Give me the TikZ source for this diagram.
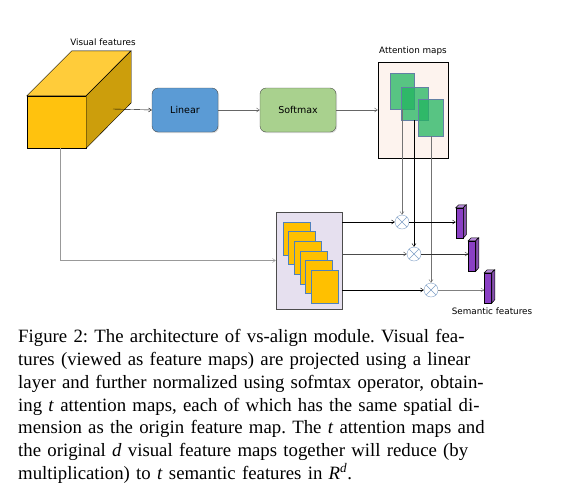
\documentclass[tikz,border=0pt]{standalone}
\usepackage{fontspec}
\setmainfont{Liberation Serif}
\newfontfamily\labelfont{DejaVu Sans}
\usetikzlibrary{arrows.meta, positioning, calc, shadows}

\definecolor{cubefront}{HTML}{FFC20E}
\definecolor{cubetop}{HTML}{FFCC3A}
\definecolor{cubeside}{HTML}{CC9E0C}
\definecolor{linblue}{HTML}{5B9BD5}
\definecolor{smgreen}{HTML}{A9D18E}
\definecolor{attbg}{HTML}{FDF3EE}
\definecolor{attgreen}{HTML}{22B560}
\definecolor{mapedge}{HTML}{4F81BD}
\definecolor{fmbg}{HTML}{E6E0EF}
\definecolor{mapyellow}{HTML}{FFC000}
\definecolor{barpurple}{HTML}{8A3FC4}
\definecolor{multedge}{HTML}{7F9FC6}

\newcommand{\capline}[1]{\leavevmode\hbox to 512pt{#1}}
\frenchspacing

\begin{document}
\begin{tikzpicture}[x=1pt, y=-1pt,
    lbl/.style={font=\labelfont\fontsize{8.8}{10}\selectfont, inner sep=0pt},
    block/.style={rounded corners=6pt, draw=black!70, minimum width=66pt, minimum height=44pt,
        font=\labelfont\fontsize{9.5}{11}\selectfont,
        drop shadow={opacity=0.25, shadow xshift=1pt, shadow yshift=-1pt}},
    arr/.style={-{Straight Barb[length=3pt, width=4pt]}},
    mult/.style={circle, draw=multedge, minimum size=14pt, inner sep=0pt},
    amap/.style={draw=mapedge!60!gray, fill=attgreen, fill opacity=0.75},
    fmap/.style={draw=mapedge, fill=mapyellow, minimum width=27pt, minimum height=33pt},
    bar/.style={draw=black, line width=0.5pt, fill=barpurple, minimum width=7pt, minimum height=30pt, inner sep=0pt}
]
    \useasboundingbox (0,0) rectangle (562,496);

    % visual feature cube
    \node[draw, fill=cubefront, minimum width=59pt, minimum height=52pt] (cube) at (56.5,122) {};
    \draw[fill=cubetop] (cube.north west) -- ++(45,-45) -- ++(59,0) -- (cube.north east) -- cycle;
    \draw[fill=cubeside] (cube.north east) -- ++(45,-45) -- ++(0,52) -- (cube.south east) -- cycle;
    \node[lbl] (vislabel) at (103,42) {Visual features};
    \coordinate (cubeout) at (113,109);
    \coordinate (drop) at (60,148);

    \node[block, fill=linblue] (lin) at (185,110) {Linear};
    \node[block, fill=smgreen, minimum width=76pt] (soft) at (298,110) {Softmax};

    % attention maps
    \node[draw, fill=attbg, minimum width=70pt, minimum height=96pt] (att) at (413,110) {};
    \node[lbl] (attlabel) at (413,51) {Attention maps};
    \node[amap, minimum width=24pt, minimum height=36pt] (amap1) at (402,91) {};
    \node[amap, minimum width=27pt, minimum height=33pt] (amap2) at (414.5,103.5) {};
    \node[amap, minimum width=25pt, minimum height=37pt] (amap3) at (430.5,117.5) {};

    % feature maps
    \node[draw=black!70, fill=fmbg, minimum width=66pt, minimum height=97pt] (fbox) at (309,260.5) {};
    \foreach \i in {0,...,5}
        \node[fmap] (fm\i) at ({296.5+5.6*\i},{238.5+9.6*\i}) {};

    % multiplications
    \node[mult] (mul1) at (402,222) {};
    \node[mult] (mul2) at (414,254) {};
    \node[mult] (mul3) at (431,290) {};
    \foreach \n in {1,2,3}
        \draw[multedge] (mul\n.north east) -- (mul\n.south west) (mul\n.north west) -- (mul\n.south east);

    % semantic features
    \foreach \n/\x/\y in {1/459.5/223, 2/472/256, 3/488/288} {
        \node[bar] (bar\n) at (\x,\y) {};
        \draw[line width=0.5pt, fill=barpurple!60!white] (bar\n.north west) -- ++(3,-3) -- ++(7,0) -- (bar\n.north east) -- cycle;
        \draw[line width=0.5pt, fill=barpurple!70!gray] (bar\n.north east) -- ++(3,-3) -- ++(0,30) -- (bar\n.south east) -- cycle;
    }
    \node[lbl] (semlabel) at (492,311) {Semantic features};

    \draw[arr] (cubeout) -- (lin.west);
    \draw[arr, black!60] (lin) -- (soft);
    \draw[arr, black!60] (soft) -- (att.west);
    \draw[arr, black!40] (drop) |- (fbox.west);

    \draw[arr, black!55] (amap1.south) -- (mul1);
    \draw[arr] (amap2.south -| mul2) -- (mul2);
    \draw[arr, black!55] (amap3.south -| mul3) -- (mul3);

    \draw[arr] (fbox.east |- mul1) -- (mul1);
    \draw[arr, black!70] (fbox.east |- mul2) -- (mul2);
    \draw[arr] (fbox.east |- mul3) -- (mul3);

    \draw[arr] (mul1) -- (mul1 -| bar1.west);
    \draw[arr, black!80] (mul2) -- (mul2 -| bar2.west);
    \draw[arr, black!50] (mul3) -- (mul3 -| bar3.west);

    % caption
    \node[anchor=north west, inner sep=0pt, text width=512pt, align=left,
        font=\fontsize{18.8}{22.7}\selectfont] (caption) at (18,329.5) {%
        \capline{Figure 2: The architecture of vs-align module. Visual fea-}\\
        \capline{tures (viewed as feature maps) are projected using a linear}\\
        \capline{layer and further normalized using sofmtax operator, obtain-}\\
        \capline{ing \textit{t} attention maps, each of which has the same spatial di-}\\
        \capline{mension as the origin feature map. The \textit{t} attention maps and}\\
        \capline{the original \textit{d} visual feature maps together will reduce (by}\\
        multiplication) to \textit{t} semantic features in \textit{R}\textsuperscript{\textit{d}}.};
\end{tikzpicture}
\end{document}
